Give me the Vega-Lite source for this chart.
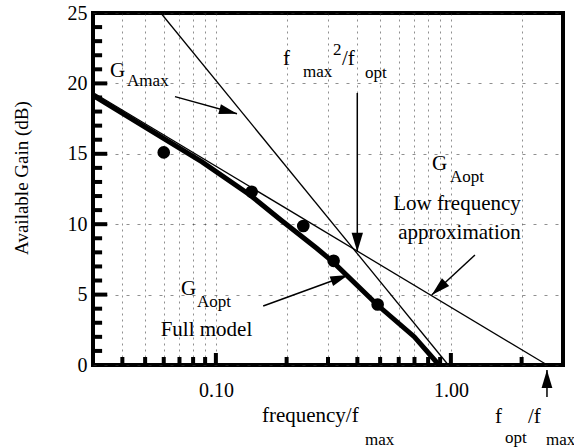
{
  "$schema": "https://vega.github.io/schema/vega-lite/v6.json",
  "width": 470,
  "height": 352,
  "autosize": {"type": "none"},
  "padding": {"left": 93, "top": 13, "right": 11, "bottom": 83},
  "background": "white",
  "config": {
    "view": {"stroke": "black", "strokeWidth": 4},
    "font": "Liberation Serif"
  },
  "encoding": {
    "x": {
      "field": "f", "type": "quantitative",
      "scale": {"type": "log", "domain": [0.03, 3], "nice": false},
      "axis": {
        "title": null,
        "values": [0.04, 0.05, 0.06, 0.07, 0.08, 0.09, 0.1, 0.2, 0.3, 0.4, 0.5, 0.6, 0.7, 0.8, 0.9, 1, 2],
        "labelExpr": "datum.value == 0.1 || datum.value == 1 ? format(datum.value, '.2f') : ''",
        "domain": false, "ticks": false,
        "labelPadding": 15, "labelFontSize": 20, "labelColor": "black", "labelFont": "Liberation Serif",
        "labelFlush": false, "labelOverlap": false,
        "grid": true, "gridDash": [2, 4], "gridColor": "#333333", "gridOpacity": 0.55, "gridWidth": 1
      }
    },
    "y": {
      "field": "g", "type": "quantitative",
      "scale": {"domain": [0, 25], "nice": false},
      "axis": {
        "title": null,
        "values": [0, 5, 10, 15, 20, 25],
        "domain": false, "ticks": false,
        "labelPadding": 6, "labelFontSize": 20, "labelColor": "black", "labelFont": "Liberation Serif",
        "labelOverlap": false, "labelFlush": false,
        "grid": true, "gridDash": [3, 8], "gridColor": "#333333", "gridWidth": 1, "gridOpacity": 0.55
      }
    }
  },
  "layer": [
    {
      "data": {"values": [
        {"f": 0.04, "g": 0}, {"f": 0.05, "g": 0}, {"f": 0.06, "g": 0}, {"f": 0.07, "g": 0},
        {"f": 0.08, "g": 0}, {"f": 0.09, "g": 0}, {"f": 0.2, "g": 0}, {"f": 0.3, "g": 0},
        {"f": 0.4, "g": 0}, {"f": 0.5, "g": 0}, {"f": 0.6, "g": 0}, {"f": 0.7, "g": 0},
        {"f": 0.8, "g": 0}, {"f": 0.9, "g": 0}, {"f": 2, "g": 0}
      ]},
      "mark": {"type": "tick", "orient": "vertical", "size": 16, "thickness": 4, "color": "black", "opacity": 1, "clip": true}
    },
    {
      "data": {"values": [{"f": 0.1, "g": 0}, {"f": 1, "g": 0}]},
      "mark": {"type": "tick", "orient": "vertical", "size": 24, "thickness": 4, "color": "black", "opacity": 1, "clip": true}
    },
    {
      "data": {"values": [
        {"series": "GAmax", "f": 0.0583, "g": 25},
        {"series": "GAmax", "f": 0.975, "g": 0},
        {"series": "GAopt low frequency", "f": 0.03, "g": 19.35},
        {"series": "GAopt low frequency", "f": 2.57, "g": 0}
      ]},
      "mark": {"type": "line", "color": "black", "strokeWidth": 1.3},
      "encoding": {"detail": {"field": "series"}}
    },
    {
      "data": {"values": [
        {"f": 0.03, "g": 19.15},
        {"f": 0.0873, "g": 14.42},
        {"f": 0.1397, "g": 12.07},
        {"f": 0.189, "g": 10.3},
        {"f": 0.2685, "g": 8.29},
        {"f": 0.314, "g": 7.34},
        {"f": 0.487, "g": 4.26},
        {"f": 0.698, "g": 2.01},
        {"f": 0.89, "g": 0}
      ]},
      "mark": {"type": "line", "color": "black", "strokeWidth": 5},
      "encoding": {}
    },
    {
      "data": {"values": [
        {"f": 0.060, "g": 15.1},
        {"f": 0.142, "g": 12.3},
        {"f": 0.2355, "g": 9.87},
        {"f": 0.317, "g": 7.4},
        {"f": 0.488, "g": 4.3}
      ]},
      "mark": {"type": "point", "shape": "circle", "filled": true, "color": "black", "opacity": 1, "size": 160}
    },
    {
      "data": {"values": [
        {"f": 0.067, "g": 19.06, "f2": 0.123, "g2": 17.85},
        {"f": 0.3997, "g": 19.32, "f2": 0.3997, "g2": 8.04},
        {"f": 1.266, "g": 7.81, "f2": 0.8287, "g2": 4.97},
        {"f": 0.159, "g": 4.19, "f2": 0.366, "g2": 6.39},
        {"f": 2.564, "g": -2.27, "f2": 2.564, "g2": -0.36}
      ]},
      "mark": {"type": "rule", "color": "black", "strokeWidth": 1.5},
      "encoding": {"x2": {"field": "f2"}, "y2": {"field": "g2"}}
    },
    {
      "data": {"values": [{"f": 0.123, "g": 17.85}]},
      "mark": {"type": "point", "shape": "M0,0L-0.28,1L0.28,1Z", "filled": true, "color": "black", "opacity": 1, "size": 1296, "angle": 105}
    },
    {
      "data": {"values": [{"f": 0.3997, "g": 8.04}]},
      "mark": {"type": "point", "shape": "M0,0L-0.3,1L0.3,1Z", "filled": true, "color": "black", "opacity": 1, "size": 1444, "angle": 180}
    },
    {
      "data": {"values": [{"f": 0.8287, "g": 4.97}]},
      "mark": {"type": "point", "shape": "M0,0L-0.28,1L0.28,1Z", "filled": true, "color": "black", "opacity": 1, "size": 1444, "angle": 227}
    },
    {
      "data": {"values": [{"f": 0.366, "g": 6.39}]},
      "mark": {"type": "point", "shape": "M0,0L-0.28,1L0.28,1Z", "filled": true, "color": "black", "opacity": 1, "size": 1296, "angle": 70}
    },
    {
      "data": {"values": [{"f": 2.564, "g": -0.36}]},
      "mark": {"type": "point", "shape": "M0,0L-0.3,1L0.3,1Z", "filled": true, "color": "black", "opacity": 1, "size": 1296, "angle": 0}
    },
    {
      "data": {"values": [
        {"label": "G", "f": 0.0354, "g": 20.45},
        {"label": "f", "f": 0.193, "g": 21.3},
        {"label": "/f", "f": 0.344, "g": 21.3},
        {"label": "G", "f": 0.831, "g": 13.85},
        {"label": "G", "f": 0.071, "g": 4.97},
        {"label": "frequency/f", "f": 0.157, "g": -4.05},
        {"label": "f", "f": 1.541, "g": -4.12},
        {"label": "/f", "f": 2.128, "g": -4.12}
      ]},
      "mark": {"type": "text", "align": "left", "baseline": "alphabetic", "fontSize": 21, "color": "black", "font": "Liberation Serif"},
      "encoding": {"text": {"field": "label"}}
    },
    {
      "data": {"values": [
        {"label": "Amax", "f": 0.0419, "g": 19.82},
        {"label": "max", "f": 0.2348, "g": 20.47},
        {"label": "2", "f": 0.315, "g": 22.0},
        {"label": "opt", "f": 0.431, "g": 20.38},
        {"label": "Aopt", "f": 0.991, "g": 13.0},
        {"label": "Aopt", "f": 0.0831, "g": 4.14},
        {"label": "max", "f": 0.431, "g": -5.68},
        {"label": "opt", "f": 1.699, "g": -5.54},
        {"label": "max", "f": 2.54, "g": -5.68}
      ]},
      "mark": {"type": "text", "align": "left", "baseline": "alphabetic", "fontSize": 17, "color": "black", "font": "Liberation Serif"},
      "encoding": {"text": {"field": "label"}}
    },
    {
      "data": {"values": [
        {"label": "Low frequency", "f": 1.0616, "g": 11.01},
        {"label": "approximation", "f": 1.088, "g": 8.95},
        {"label": "Full model", "f": 0.0912, "g": 2.06}
      ]},
      "mark": {"type": "text", "align": "center", "baseline": "alphabetic", "fontSize": 21, "color": "black", "font": "Liberation Serif"},
      "encoding": {"text": {"field": "label"}}
    },
    {
      "data": {"values": [{"label": "Available Gain (dB)", "f": 0.01586, "g": 13.28}]},
      "mark": {"type": "text", "align": "center", "baseline": "alphabetic", "angle": 270, "fontSize": 19, "color": "black", "font": "Liberation Serif"},
      "encoding": {"text": {"field": "label"}}
    },
    {
      "data": {"values": [
        {"f": 0.03, "f2": 0.0328, "g": 1}, {"f": 0.03, "f2": 0.0328, "g": 2}, {"f": 0.03, "f2": 0.0328, "g": 3}, {"f": 0.03, "f2": 0.0328, "g": 4},
        {"f": 0.03, "f2": 0.0345, "g": 5},
        {"f": 0.03, "f2": 0.0328, "g": 6}, {"f": 0.03, "f2": 0.0328, "g": 7}, {"f": 0.03, "f2": 0.0328, "g": 8}, {"f": 0.03, "f2": 0.0328, "g": 9},
        {"f": 0.03, "f2": 0.0345, "g": 10},
        {"f": 0.03, "f2": 0.0328, "g": 11}, {"f": 0.03, "f2": 0.0328, "g": 12}, {"f": 0.03, "f2": 0.0328, "g": 13}, {"f": 0.03, "f2": 0.0328, "g": 14},
        {"f": 0.03, "f2": 0.0345, "g": 15},
        {"f": 0.03, "f2": 0.0328, "g": 16}, {"f": 0.03, "f2": 0.0328, "g": 17}, {"f": 0.03, "f2": 0.0328, "g": 18}, {"f": 0.03, "f2": 0.0328, "g": 19},
        {"f": 0.03, "f2": 0.0345, "g": 20},
        {"f": 0.03, "f2": 0.0328, "g": 21}, {"f": 0.03, "f2": 0.0328, "g": 22}, {"f": 0.03, "f2": 0.0328, "g": 23}, {"f": 0.03, "f2": 0.0328, "g": 24}
      ]},
      "mark": {"type": "rule", "color": "black", "strokeWidth": 4, "strokeCap": "butt"},
      "encoding": {"x2": {"field": "f2"}}
    }
  ]
}
